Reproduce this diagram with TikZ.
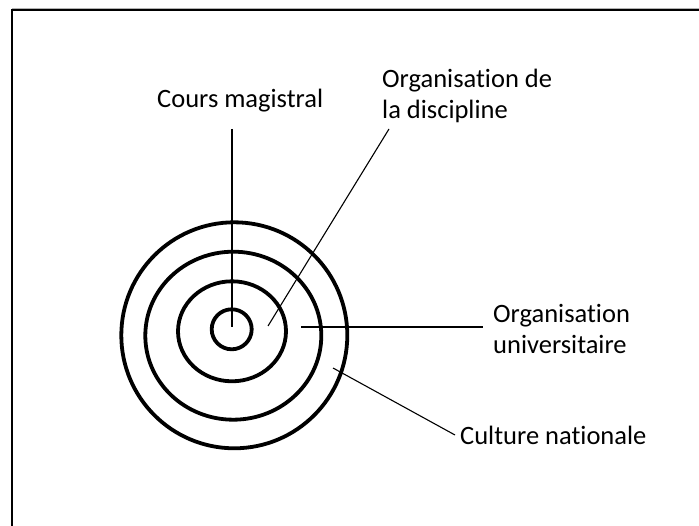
\documentclass[tikz,border=0pt]{standalone}
\usepackage{fontspec}
\setmainfont{Carlito}[Ligatures={NoCommon}]
\begin{document}
\begin{tikzpicture}[x=1pt,y=-1pt,
  ring/.style={line width=3.8pt},
  lbl/.style={inner sep=0pt,anchor=base west,font=\fontsize{26.5}{31}\selectfont,align=left},
  thinline/.style={line width=1.1pt},
  midline/.style={line width=1.8pt}]
\useasboundingbox (0,0) rectangle (699,526);
% frame
\draw[gray!60,line width=1pt] (12,8.5) -- (699,8.5);
\draw[line width=2pt] (12.3,10.3) -- (699,10.3);
\draw[line width=2.2pt] (12.3,9.5) -- (12.3,526);
% rings
\draw[ring] (231.7,329.3) ellipse [x radius=20,y radius=20];
\draw[ring] (232,331.3) ellipse [x radius=54,y radius=50];
\draw[ring] (233.3,335.7) ellipse [x radius=88,y radius=84];
\draw[ring] (234.3,335.3) ellipse [x radius=113,y radius=113];
% labels
\node[lbl] (cm) at (157,108) {Cours magistral};
\node[lbl] (od) at (382,119) {Organisation de\\la discipline};
\node[lbl] (ou) at (493,354) {Organisation\\universitaire};
\node[lbl] (cn) at (460,445) {Culture nationale};
% connector ends
\coordinate (cmT) at (232,129);
\coordinate (cmB) at (232,327);
\coordinate (odT) at (389,129);
\coordinate (odB) at (268,326);
\coordinate (ouL) at (301,327);
\coordinate (ouR) at (483,327);
\coordinate (cnL) at (333,368);
\coordinate (cnR) at (455,435);
\draw[midline] (cmT) -- (cmB);
\draw[thinline] (odT) -- (odB);
\draw[midline] (ouL) -- (ouR);
\draw[thinline] (cnL) -- (cnR);
\end{tikzpicture}
\end{document}
